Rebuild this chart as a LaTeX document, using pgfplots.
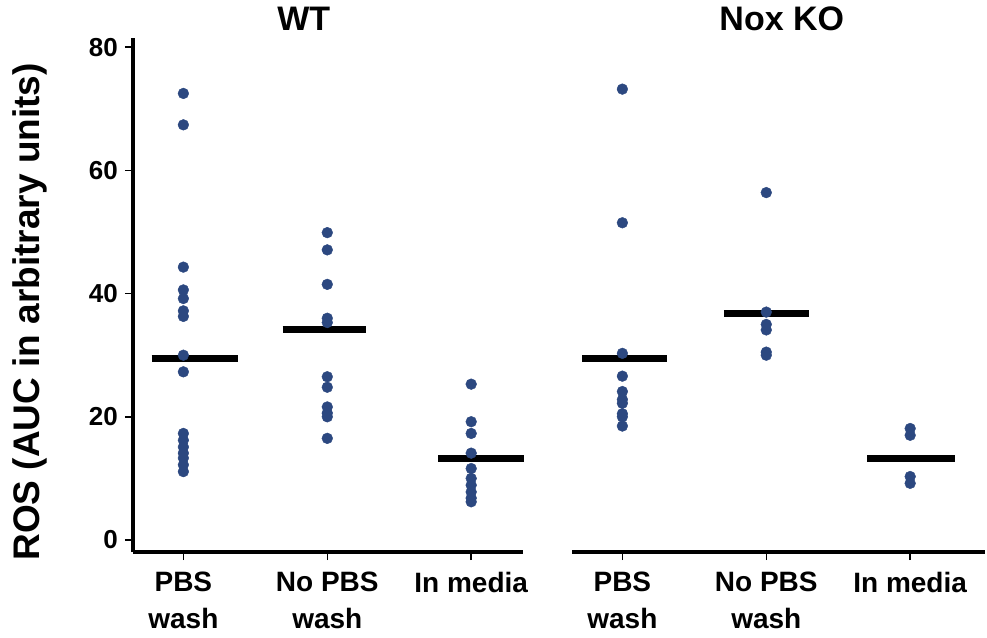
\documentclass[border=0pt]{standalone}
\usepackage{fontspec}
\setmainfont{Liberation Sans}
\usepackage{pgfplots}
\pgfplotsset{compat=1.18}
\definecolor{dotblue}{RGB}{44,72,128}
\pgfplotsset{
  common/.style={
    scale only axis,
    height=514pt,
    ymin=-1.95, ymax=81.5,
    clip=false,
    tick align=outside,
    /pgf/number format/assume math mode=true,
    axis line style={line width=3.5pt, black},
    xtick={0,1,2},
    xticklabels={{PBS\\wash},{No PBS\\wash},{In media}},
    x tick style={line width=1.5pt, black},
    major tick length=8pt,
    xticklabel style={align=center, anchor=north, inner sep=0pt, yshift=-12pt,
      font=\fontsize{28}{37}\selectfont\bfseries},
    title style={font=\fontsize{34}{40}\selectfont\bfseries, anchor=base, yshift=1pt},
  },
  dots/.style={only marks, mark=*, mark size=5.4pt, color=dotblue, mark options={draw=dotblue, fill=dotblue}},
  meanline/.style={black, line width=7pt, no marks},
}
\begin{document}
\begin{tikzpicture}
\useasboundingbox (0,0) rectangle (987pt,637pt);
\begin{axis}[common,
  at={(133pt,85pt)}, anchor=south west,
  width=390pt,
  xmin=-0.35, xmax=2.36,
  axis x line*=bottom, axis y line*=left,
  ytick={0,20,40,60,80},
  y tick style={line width=1.5pt, black},
  yticklabel style={anchor=east, inner sep=0pt, xshift=-7pt, font=\fontsize{26}{30}\selectfont\bfseries},
  ylabel={ROS (AUC in arbitrary units)},
  ylabel style={at={(axis description cs:-0.264,0.467)}, anchor=center, font=\fontsize{37}{42}\selectfont\bfseries},
  title={WT},
  title style={at={(0.438,1)}},
]
\addplot[dots] coordinates {
 (0,72.5) (0,67.4) (0,44.3) (0,40.6) (0,39.2) (0,37.2) (0,36.3) (0,30.0) (0,27.3)
 (0,17.3) (0,16.2) (0,15.1) (0,14.1) (0,13.3) (0,12.2) (0,11.1)};
\addplot[dots] coordinates {
 (1,49.9) (1,47.1) (1,41.5) (1,36.0) (1,35.3) (1,26.5) (1,24.8) (1,21.6) (1,20.6) (1,20.0) (1,16.5)};
\addplot[dots] coordinates {
 (2,25.3) (2,19.2) (2,17.3) (2,14.1) (2,11.6) (2,10.0) (2,8.9) (2,7.8) (2,6.8) (2,6.2)};
\addplot[meanline] coordinates {(-0.22,29.5) (0.38,29.5)};
\addplot[meanline] coordinates {(0.69,34.1) (1.27,34.1)};
\addplot[meanline] coordinates {(1.77,13.3) (2.37,13.3)};
\end{axis}
\begin{axis}[common,
  at={(572pt,85pt)}, anchor=south west,
  width=413pt,
  xmin=-0.35, xmax=2.52,
  axis x line*=bottom, axis y line=none,
  ytick=\empty,
  title={Nox KO},
  title style={at={(0.508,1)}},
]
\addplot[dots] coordinates {
 (0,73.2) (0,51.5) (0,30.3) (0,26.6) (0,24.1) (0,22.8) (0,22.2) (0,20.5) (0,20.0) (0,18.5)};
\addplot[dots] coordinates {
 (1,56.4) (1,37.0) (1,35.0) (1,34.1) (1,30.5) (1,30.0)};
\addplot[dots] coordinates {
 (2,18.1) (2,17.0) (2,10.3) (2,9.2)};
\addplot[meanline] coordinates {(-0.28,29.5) (0.31,29.5)};
\addplot[meanline] coordinates {(0.705,36.7) (1.30,36.7)};
\addplot[meanline] coordinates {(1.70,13.3) (2.31,13.3)};
\end{axis}
\end{tikzpicture}
\end{document}
